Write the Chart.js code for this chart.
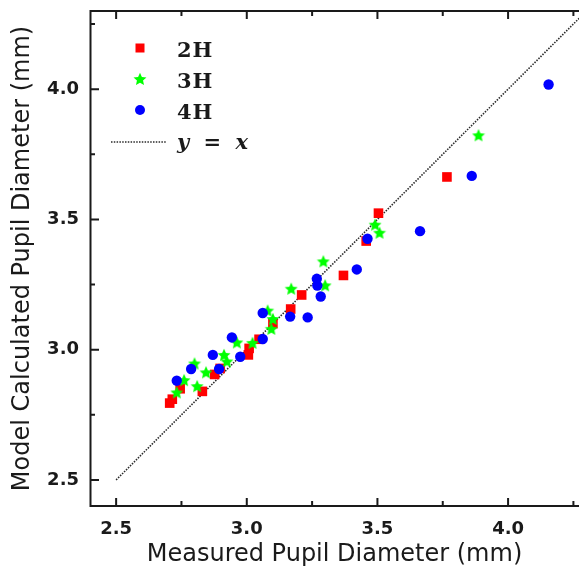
<!DOCTYPE html>
<html><head><meta charset="utf-8">
<script src="https://cdn.jsdelivr.net/npm/chart.js@4/dist/chart.umd.min.js"></script>
<style>html,body{margin:0;padding:0;background:#fff;}#wrap{width:579px;height:571px;position:relative;}</style>
</head><body><div id="wrap"><canvas id="c" width="579" height="571"></canvas></div>
<script>
// ---- data ----
const measured2H = [2.705, 2.715, 2.745, 2.83, 2.877, 2.898, 3.006, 3.009, 3.047, 3.10, 3.168, 3.21, 3.37, 3.457, 3.504, 3.766];
const model2H    = [2.795, 2.81, 2.85, 2.84, 2.905, 2.928, 2.98, 3.005, 3.04, 3.10, 3.156, 3.21, 3.285, 3.417, 3.524, 3.663];
const measured3H = [2.732, 2.76, 2.80, 2.81, 2.844, 2.913, 2.924, 2.962, 3.022, 3.08, 3.10, 3.094, 3.17, 3.293, 3.30, 3.491, 3.508, 3.887];
const model3H    = [2.836, 2.883, 2.947, 2.86, 2.913, 2.98, 2.955, 3.028, 3.026, 3.15, 3.118, 3.08, 3.234, 3.339, 3.247, 3.48, 3.449, 3.823];
const measured4H = [2.732, 2.787, 2.87, 2.894, 2.943, 2.975, 3.061, 3.061, 3.166, 3.233, 3.268, 3.27, 3.283, 3.421, 3.462, 3.663, 3.861, 4.155];
const model4H    = [2.881, 2.926, 2.98, 2.926, 3.047, 2.973, 3.141, 3.041, 3.127, 3.124, 3.272, 3.246, 3.204, 3.308, 3.426, 3.455, 3.667, 4.018];
const identityLine = [2.5, 4.3];
const seriesNames = ['2H', '3H', '4H'];
const lineName = 'y = x';
const xMajorTicks = [2.5, 3.0, 3.5, 4.0];
const xMinorTicks = [2.75, 3.25, 3.75, 4.25];
const yMajorTicks = [2.5, 3.0, 3.5, 4.0];
const yMinorTicks = [2.75, 3.25, 3.75, 4.25];
const xTitle = 'Measured Pupil Diameter (mm)';
const yTitle = 'Model Calculated Pupil Diameter (mm)';

function pts(xs, ys){ return xs.map((x,i)=>({x:x, y:ys[i]})); }

function makeStar(size, color){
  const c=document.createElement('canvas'); c.width=c.height=size;
  const g=c.getContext('2d'); const cx=size/2, cy=size/2+0.5, R=size/2-0.2, r=R*0.47;
  g.beginPath();
  for(let i=0;i<10;i++){ const a=-Math.PI/2+i*Math.PI/5; const rr=i%2===0?R:r; g.lineTo(cx+rr*Math.cos(a), cy+rr*Math.sin(a)); }
  g.closePath(); g.fillStyle=color; g.fill(); return c;
}
const starImg = makeStar(14, '#00ff00');

const INK = '#1a1a1a';
const DOT = '#2a2a2a';

const framePlugin = {
  id:'frame',
  afterDraw(chart){
    const {ctx, chartArea:a, scales:{x, y}} = chart;
    ctx.save();
    ctx.strokeStyle = INK; ctx.lineWidth = 2; ctx.lineCap='butt';
    ctx.beginPath();
    ctx.moveTo(a.left+0.5, a.top); ctx.lineTo(a.left+0.5, a.bottom+1);
    ctx.moveTo(a.left-0.5, a.bottom); ctx.lineTo(a.right, a.bottom);
    ctx.moveTo(a.left-0.5, a.top); ctx.lineTo(a.right, a.top);
    ctx.stroke();
    const tick = (vals, len) => {
      ctx.beginPath();
      vals.forEach(v=>{ const px=x.getPixelForValue(v);
        ctx.moveTo(px, a.bottom); ctx.lineTo(px, a.bottom-len);
        ctx.moveTo(px, a.top); ctx.lineTo(px, a.top+len); });
      ctx.stroke();
    };
    const ytick = (vals, len) => {
      ctx.beginPath();
      vals.forEach(v=>{ const py=y.getPixelForValue(v);
        ctx.moveTo(a.left, py); ctx.lineTo(a.left+len, py); });
      ctx.stroke();
    };
    tick(xMajorTicks, 8); tick(xMinorTicks, 5);
    ytick(yMajorTicks, 9); ytick(yMinorTicks, 5);
    ctx.restore();

    // legend inside the plot
    const lx = a.left + 50, ty = [a.top+37, a.top+68, a.top+99, a.top+131];
    ctx.save();
    const ds = chart.data.datasets;
    ctx.fillStyle = ds[0].backgroundColor; ctx.fillRect(lx-4.5, ty[0]-4.5, 9, 9);
    ctx.drawImage(starImg, lx-7, ty[1]-7);
    ctx.fillStyle = ds[2].backgroundColor; ctx.beginPath(); ctx.arc(lx, ty[2], 5, 0, Math.PI*2); ctx.fill();
    ctx.strokeStyle = DOT; ctx.lineWidth = 1.6; ctx.setLineDash([1.5,1.3]);
    ctx.beginPath(); ctx.moveTo(lx-29, ty[3]); ctx.lineTo(lx+27, ty[3]); ctx.stroke();
    ctx.setLineDash([]);
    ctx.fillStyle = INK; ctx.textBaseline='alphabetic'; ctx.textAlign='left';
    ctx.font = 'bold 21px "DejaVu Serif"';
    ctx.letterSpacing = '1px';
    for(let i=0;i<3;i++) ctx.fillText(seriesNames[i], lx+37, ty[i]+8.5);
    ctx.font = 'italic bold 21px "DejaVu Serif"';
    ctx.letterSpacing = '3.5px';
    ctx.fillText(lineName, lx+37, ty[3]+7);
    ctx.restore();
  }
};

new Chart(document.getElementById('c'), {
  type:'scatter',
  data:{ datasets:[
    {label:seriesNames[0], data:pts(measured2H, model2H), pointStyle:'rect', pointRadius:6.8, backgroundColor:'#ff0000', borderWidth:0, order:3},
    {label:seriesNames[1], data:pts(measured3H, model3H), pointStyle:starImg, pointRadius:6, backgroundColor:'#00ff00', borderWidth:0, order:2},
    {label:seriesNames[2], data:pts(measured4H, model4H), pointStyle:'circle', pointRadius:5.2, backgroundColor:'#0000ff', borderWidth:0, order:1},
    {label:lineName, type:'line', data:pts(identityLine, identityLine), borderColor:DOT, borderWidth:1.6, borderDash:[1.5,1.3], pointRadius:0, fill:false, order:4}
  ]},
  options:{
    responsive:false, animation:false, devicePixelRatio:1,
    layout:{autoPadding:false, padding:{top:11, right:0, left:0, bottom:0}},
    plugins:{legend:{display:false}, tooltip:{enabled:false}},
    scales:{
      x:{type:'linear', position:'bottom', min:2.4, max:4.2714,
        afterBuildTicks:s=>{s.ticks = xMajorTicks.map(v=>({value:v}));},
        afterFit:s=>{s.height=65; s.paddingLeft=0; s.paddingRight=0;},
        grid:{display:false, drawTicks:false}, border:{display:false},
        ticks:{padding:13, color:INK, font:{family:'DejaVu Sans', weight:'bold', size:18}, callback:v=>Number(v).toFixed(1), maxRotation:0},
        title:{display:true, text:xTitle, color:INK, font:{family:'DejaVu Sans', size:24}, padding:{top:0,bottom:2}}
      },
      y:{type:'linear', position:'left', min:2.4, max:4.3,
        afterBuildTicks:s=>{s.ticks = yMajorTicks.map(v=>({value:v}));},
        afterFit:s=>{s.width=90; s.paddingTop=0; s.paddingBottom=0;},
        grid:{display:false, drawTicks:false}, border:{display:false},
        ticks:{padding:11, color:INK, font:{family:'DejaVu Sans', weight:'bold', size:18}, callback:v=>Number(v).toFixed(1)},
        title:{display:true, text:yTitle, color:INK, font:{family:'DejaVu Sans', size:24}, padding:{top:8,bottom:0}}
      }
    }
  },
  plugins:[framePlugin]
});
</script></body></html>
